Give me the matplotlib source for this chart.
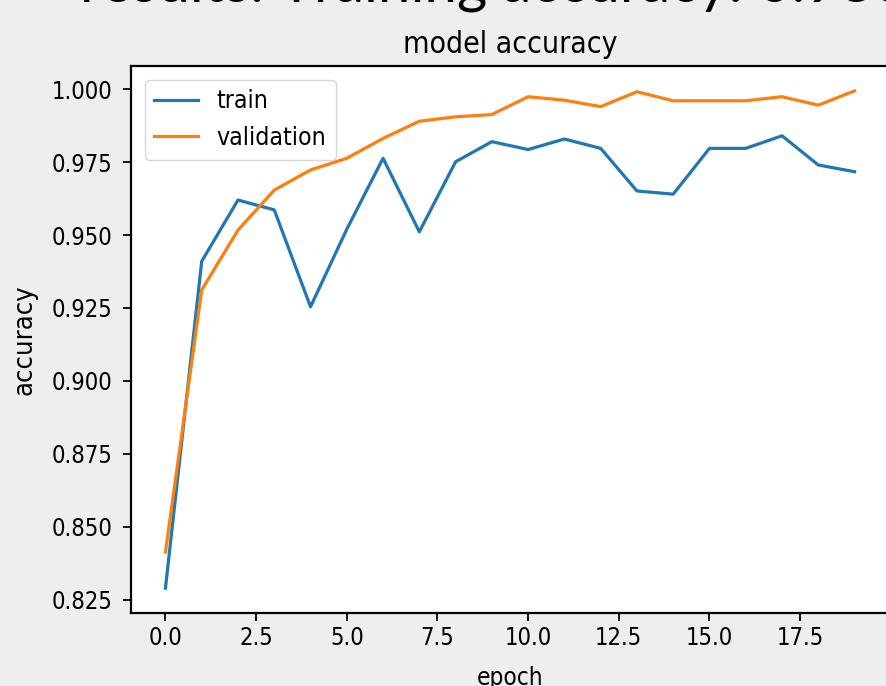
import matplotlib
matplotlib.use("Agg")
from matplotlib import pyplot as plt

# values (keras history, 20 epochs)
epochs = list(range(20))
trainAcc = [0.829, 0.941, 0.962, 0.9586, 0.9254, 0.952, 0.9763, 0.9511, 0.9751, 0.9820,
            0.9793, 0.9829, 0.9797, 0.9651, 0.9640, 0.9797, 0.9797, 0.9840, 0.9740, 0.9717]
valAcc = [0.8414, 0.9312, 0.9517, 0.9654, 0.9723, 0.9763, 0.9831, 0.9890, 0.9905, 0.9913,
          0.9974, 0.9962, 0.9940, 0.9991, 0.9960, 0.9960, 0.9960, 0.9974, 0.9945, 0.9994]
legendLabels = ["train", "validation"]
slideTitle = "results: Training accuracy: 0.9808"

plt.rcParams["font.family"] = ["DejaVu Sans"]
plt.rcParams["font.stretch"] = "condensed"  # screenshot was squashed sideways
BASESIZE = 17

fig = plt.figure(figsize=(8.86, 6.86), dpi=100, facecolor="#eeeeee")
ax = fig.add_axes([131 / 886, 73 / 686, 758 / 886, 547 / 686])  # right spine falls off the crop

ax.plot(epochs, trainAcc, color="#1f77b4", linewidth=2.3, label=legendLabels[0])
ax.plot(epochs, valAcc, color="#ff7f0e", linewidth=2.3, label=legendLabels[1])

ax.set_title("model accuracy", fontsize=BASESIZE * 1.27, pad=9)
ax.set_ylabel("accuracy", fontsize=19.5)
ax.set_xlabel("epoch", fontsize=17.5)
ax.yaxis.set_label_coords(-0.1227, 0.5)
ax.xaxis.set_label_coords(0.5, -0.097)
ax.tick_params(labelsize=BASESIZE, length=6, width=1.3)
ax.tick_params(axis="y", pad=7.5)
for sp in ax.spines.values():
    sp.set_linewidth(1.6)
ax.legend(loc="upper left", fontsize=17.8, handlelength=1.75, handletextpad=0.75,
          borderpad=0.4, borderaxespad=0.55)

# slide heading, mostly cropped away at the top of the screenshot
fig.text(80 / 886, 1 - 1 / 686, slideTitle, fontsize=42, family="Lato", stretch="normal",
         ha="left", va="baseline", color="black")

fig.savefig("out.png", dpi=100, facecolor=fig.get_facecolor())
